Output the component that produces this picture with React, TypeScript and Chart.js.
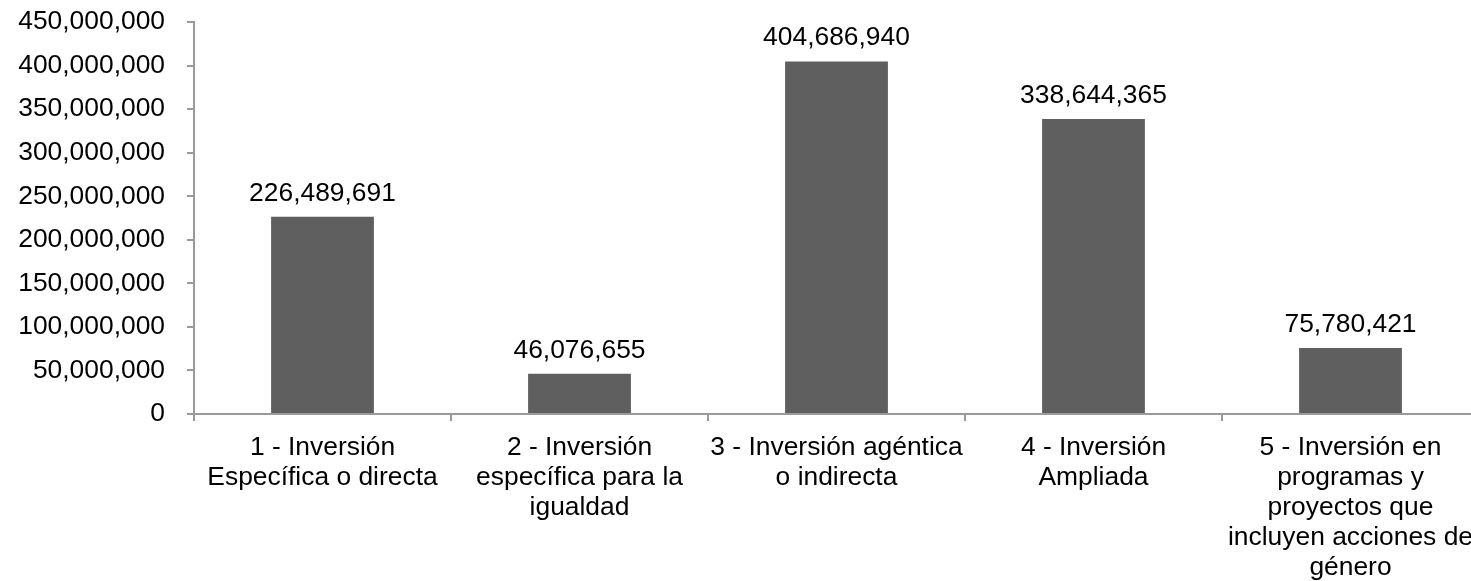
import React, { useEffect, useRef } from "react";
import { Chart, registerables } from "chart.js";

Chart.register(...registerables);

const categories: string[][] = [
  ["1 - Inversión", "Específica o directa"],
  ["2 - Inversión", "específica para la", "igualdad"],
  ["3 - Inversión agéntica", "o indirecta"],
  ["4 - Inversión", "Ampliada"],
  ["5 - Inversión en", "programas y", "proyectos que", "incluyen acciones de", "género"],
];
const values: number[] = [226489691, 46076655, 404686940, 338644365, 75780421];
const yMin = 0;
const yMax = 450000000;
const yStep = 50000000;

const FONT = "'Liberation Sans', Arial, sans-serif";
const FONT_SIZE = 26.4;
const AXIS_COLOR = "#9a9a9a";
const BAR_COLOR = "#5f5f5f";

const fmt = (v: number) => Math.round(v).toLocaleString("en-US");

const dataLabels = {
  id: "dataLabels",
  afterDatasetsDraw(chart: any) {
    const ctx = chart.ctx;
    const meta = chart.getDatasetMeta(0);
    ctx.save();
    ctx.font = `${FONT_SIZE}px ${FONT}`;
    ctx.fillStyle = "#000";
    ctx.textAlign = "center";
    ctx.textBaseline = "alphabetic";
    meta.data.forEach((bar: any, i: number) => {
      ctx.fillText(fmt(values[i]), bar.x, bar.y - 16);
    });
    ctx.restore();
  },
};

export default function App() {
  const ref = useRef<HTMLCanvasElement | null>(null);
  useEffect(() => {
    if (!ref.current) return;
    const chart = new Chart(ref.current, {
      type: "bar",
      data: {
        labels: categories,
        datasets: [
          {
            data: values,
            backgroundColor: BAR_COLOR,
            borderWidth: 0,
            categoryPercentage: 0.8,
            barPercentage: 0.5,
          },
        ],
      },
      options: {
        responsive: false,
        animation: false,
        layout: { padding: { top: 22, left: 0, right: 0, bottom: 0 } },
        plugins: {
          legend: { display: false },
          tooltip: { enabled: false },
        },
        font: { family: FONT, size: FONT_SIZE },
        scales: {
          x: {
            grid: {
              display: true,
              offset: true,
              drawOnChartArea: false,
              drawTicks: true,
              tickLength: 7,
              color: AXIS_COLOR,
              lineWidth: 2,
            },
            border: { display: true, color: AXIS_COLOR, width: 2 },
            ticks: {
              color: "#000",
              font: { family: FONT, size: FONT_SIZE, lineHeight: 1.135 },
              padding: 12,
              maxRotation: 0,
              minRotation: 0,
              autoSkip: false,
            },
            afterFit: (scale: any) => {
              scale.height = 581 - 414;
              scale.paddingLeft = 0;
              scale.paddingRight = 0;
            },
          },
          y: {
            min: yMin,
            max: yMax,
            grid: {
              display: true,
              drawOnChartArea: false,
              drawTicks: true,
              tickLength: 7,
              color: AXIS_COLOR,
              lineWidth: 2,
            },
            border: { display: true, color: AXIS_COLOR, width: 2 },
            ticks: {
              stepSize: yStep,
              color: "#000",
              font: { family: FONT, size: FONT_SIZE },
              padding: 22,
              callback: (v: any) => fmt(Number(v)),
            },
            afterFit: (scale: any) => {
              scale.width = 194;
              scale.paddingTop = 0;
              scale.paddingBottom = 0;
            },
          },
        },
      },
      plugins: [dataLabels],
    });
    return () => chart.destroy();
  }, []);
  return (
    <div
      style={{
        position: "absolute",
        left: 0,
        top: 0,
        width: 1471,
        height: 581,
        overflow: "hidden",
        background: "#fff",
      }}
    >
      <canvas ref={ref} width={1479} height={581} style={{ display: "block" }} />
    </div>
  );
}
